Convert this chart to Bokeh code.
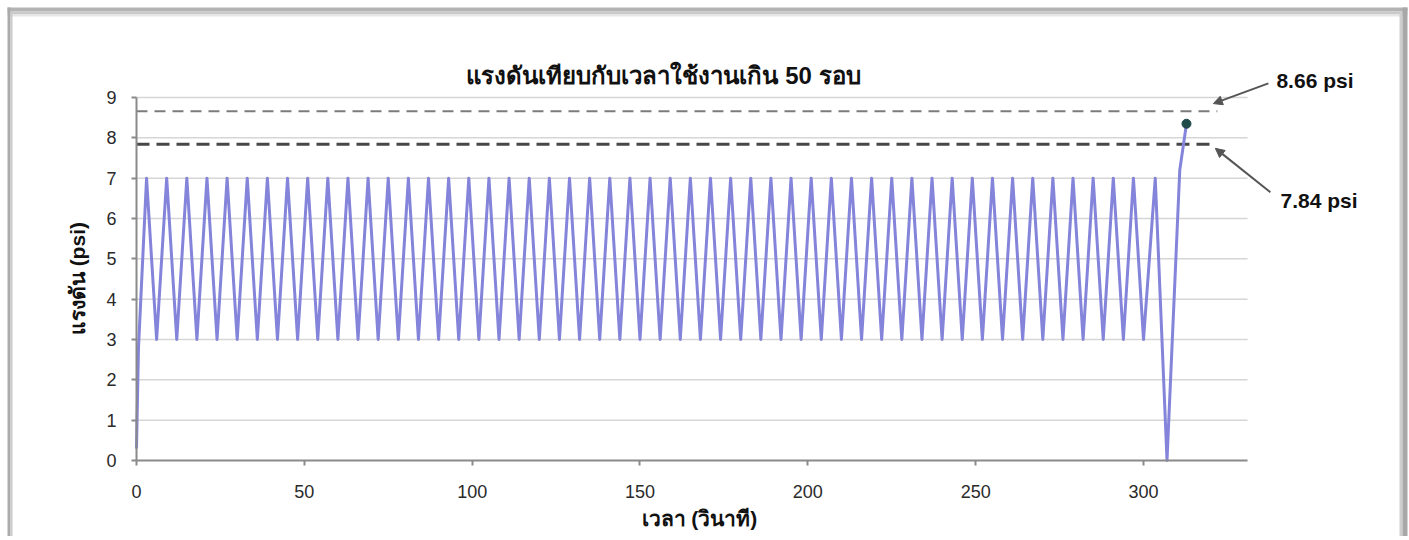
import math
from bokeh.plotting import figure
from bokeh.models import Range1d, FixedTicker, Label, Arrow, NormalHead, BoxAnnotation
from bokeh.embed import file_html
from bokeh.resources import INLINE

# ---- data ----
time_s = [0, 0.6,
          3, 6, 9, 12, 15, 18, 21, 24, 27, 30,
          33, 36, 39, 42, 45, 48, 51, 54, 57, 60,
          63, 66, 69, 72, 75, 78, 81, 84, 87, 90,
          93, 96, 99, 102, 105, 108, 111, 114, 117, 120,
          123, 126, 129, 132, 135, 138, 141, 144, 147, 150,
          153, 156, 159, 162, 165, 168, 171, 174, 177, 180,
          183, 186, 189, 192, 195, 198, 201, 204, 207, 210,
          213, 216, 219, 222, 225, 228, 231, 234, 237, 240,
          243, 246, 249, 252, 255, 258, 261, 264, 267, 270,
          273, 276, 279, 282, 285, 288, 291, 294, 297, 300,
          303.5, 307, 310.8, 312.8]
pressure_psi = [0.3, 2.8,
                7, 3, 7, 3, 7, 3, 7, 3, 7, 3,
                7, 3, 7, 3, 7, 3, 7, 3, 7, 3,
                7, 3, 7, 3, 7, 3, 7, 3, 7, 3,
                7, 3, 7, 3, 7, 3, 7, 3, 7, 3,
                7, 3, 7, 3, 7, 3, 7, 3, 7, 3,
                7, 3, 7, 3, 7, 3, 7, 3, 7, 3,
                7, 3, 7, 3, 7, 3, 7, 3, 7, 3,
                7, 3, 7, 3, 7, 3, 7, 3, 7, 3,
                7, 3, 7, 3, 7, 3, 7, 3, 7, 3,
                7, 3, 7, 3, 7, 3, 7, 3, 7, 3,
                7, 0, 7.2, 8.35]
final_t = [312.8]
final_p = [8.35]
limit_psi = [8.66, 7.84]
limit_end_t = [322.0, 320.5]
x_ticks = [0, 50, 100, 150, 200, 250, 300]
y_ticks = [0, 1, 2, 3, 4, 5, 6, 7, 8, 9]
x_axis_max = 331
y_axis_max = 9

title_text = "แรงดันเทียบกับเวลาใช้งานเกิน 50 รอบ"
x_title = "เวลา (วินาที)"
y_title = "แรงดัน (psi)"

FONT = "Liberation Sans, Arial, sans-serif"
W, H = 1409, 536

# frame covers whole canvas; ranges chosen so the chart area sits where it does in the picture
p = figure(width=W, height=H, output_backend="svg", toolbar_location=None,
           x_range=Range1d(-40.51, 379.24), y_range=Range1d(-1.884, 11.406),
           min_border=0, min_border_left=0, min_border_right=0,
           min_border_top=0, min_border_bottom=0)
p.outline_line_color = None
p.background_fill_color = "white"
p.border_fill_color = "white"

# axes drawn at data zero, limited to the chart extent
p.xaxis.fixed_location = 0
p.yaxis.fixed_location = 0
p.xaxis.bounds = (0, x_axis_max)
p.yaxis.bounds = (0, y_axis_max)
p.xaxis.ticker = FixedTicker(ticks=x_ticks)
p.yaxis.ticker = FixedTicker(ticks=y_ticks)
for ax in (p.xaxis[0], p.yaxis[0]):
    ax.axis_line_color = "#8a8a8a"
    ax.axis_line_width = 2
    ax.major_tick_line_color = "#8a8a8a"
    ax.major_tick_line_width = 2
    ax.major_tick_out = 5
    ax.major_tick_in = 0
    ax.minor_tick_line_color = None
    ax.major_label_text_font = FONT
    ax.major_label_text_font_size = "18px"
    ax.major_label_text_color = "#2a2a2a"
p.xaxis.major_label_standoff = 19
p.yaxis.major_label_standoff = 15

p.xgrid.grid_line_color = None
p.ygrid.grid_line_color = None
p.segment(x0=0, x1=x_axis_max, y0=y_ticks[1:], y1=y_ticks[1:],
          line_color="#d6d6d6", line_width=1.5)

# limit lines
p.segment(x0=0, y0=limit_psi[:1], x1=limit_end_t[:1], y1=limit_psi[:1],
          line_color="#7c7c7c", line_width=2, line_dash="11 7")
p.segment(x0=0, y0=limit_psi[1:], x1=limit_end_t[1:], y1=limit_psi[1:],
          line_color="#474747", line_width=3, line_dash="13 7")

# pressure trace
p.line(time_s, pressure_psi, line_color="#8484da", line_width=3, line_join="round")
p.scatter(final_t, final_p, size=9, fill_color="#1f4a4a", line_color="#1f4a4a")

# picture frame (screen units: x from left, y from bottom)
def band(l, r, t, b, c):
    p.add_layout(BoxAnnotation(left=l, right=r, top=H - t, bottom=H - b,
                               left_units="screen", right_units="screen",
                               top_units="screen", bottom_units="screen",
                               fill_color=c, fill_alpha=1, line_alpha=0, level="overlay"))

band(7, 1407, 7, 11, "#b3b3b3")
band(7, 1407, 11, 14, "#c9c9c9")
band(7, 1407, 14, 16, "#e6e6e6")
band(7, 10, 7, H, "#ababab")
band(10, 12, 11, H, "#cbcbcb")
band(1399, 1402, 11, H, "#cfcfcf")
band(1402, 1407, 7, H, "#a8a8a8")

# texts
def add_label(**kw):
    base = dict(text_baseline="middle", text_font=FONT, text_font_style="bold",
                text_color="#111111")
    base.update(kw)
    p.add_layout(Label(**base))

add_label(x=157.0, y=9.546, text=title_text, text_align="center", text_font_size="24px")
add_label(x=167.7, y=-1.45, text=x_title, text_align="center", text_font_size="21px")
add_label(x=-17.58, y=4.51, text=y_title, text_align="center", angle=math.pi / 2,
          text_font_size="21px")
add_label(x=339.6, y=9.42, text=f"{limit_psi[0]:.2f} psi", text_align="left",
          text_font_size="21px")
add_label(x=340.8, y=6.45, text=f"{limit_psi[1]:.2f} psi", text_align="left",
          text_font_size="21px")
p.add_layout(Arrow(end=NormalHead(size=9, fill_color="#555555", line_color="#555555"),
                   x_start=337.2, y_start=9.35, x_end=320.8, y_end=8.85,
                   line_color="#555555", line_width=2))
p.add_layout(Arrow(end=NormalHead(size=9, fill_color="#555555", line_color="#555555"),
                   x_start=337.8, y_start=6.65, x_end=321.4, y_end=7.74,
                   line_color="#555555", line_width=2))

open("out.html", "w").write(file_html(p, INLINE))
